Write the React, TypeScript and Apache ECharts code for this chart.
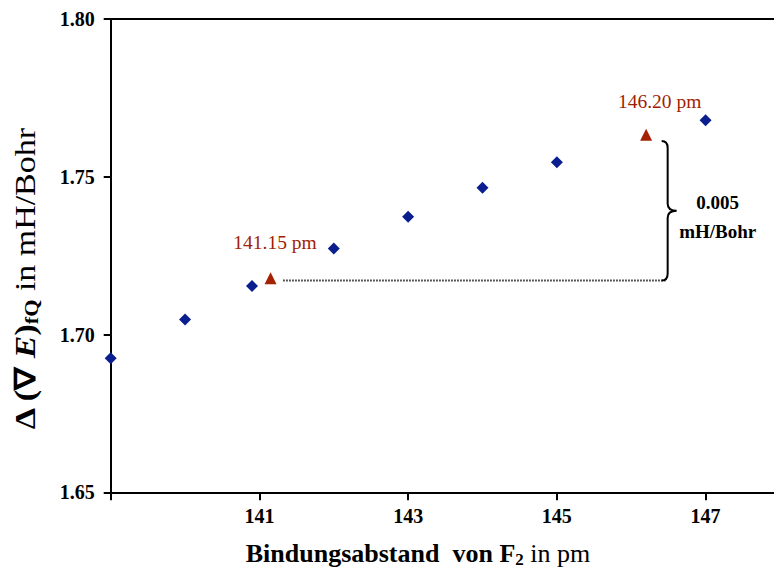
import React, { useEffect, useRef } from "react";
import * as echarts from "echarts";

// Data
const distances = [139, 140, 140.9, 142, 143, 144, 145, 147];
const gradients = [1.6925, 1.7048, 1.7154, 1.7273, 1.7373, 1.7465, 1.7546, 1.7679];
const markedDistances = [141.15, 146.2];
const markedGradients = [1.7178, 1.7633];
const xTickLabels = [141, 143, 145, 147];
const xTickMarks = [139, 141, 143, 145, 147];
const guideY = 1.7171;
const guideFrom = 141.32;
const guideTo = 146.46;
const braceX = 146.49;
const braceTop = 1.7613;
const braceBottom = 1.7171;
const braceLabel = ["0.005", "mH/Bohr"];

const SERIF = "'Liberation Serif', 'Times New Roman', serif";

export default function App() {
  const ref = useRef<HTMLDivElement>(null);
  useEffect(() => {
    document.body.style.margin = "0";
    const chart = echarts.init(ref.current!, null, { renderer: "svg" });
    const option: any = {
      animation: false,
      grid: { left: 110.7, top: 19, right: 0, bottom: 80.7 },
      xAxis: [
        {
          type: "value",
          min: 139,
          max: 147.92,
          splitLine: { show: false },
          axisLine: { show: true, onZero: false, lineStyle: { color: "#000", width: 2 } },
          axisTick: {
            show: true,
            length: 8,
            inside: false,
            lineStyle: { color: "#000", width: 2 },
            customValues: xTickMarks,
          },
          axisLabel: {
            show: true,
            customValues: xTickLabels,
            fontSize: 20,
            fontWeight: "bold",
            fontFamily: SERIF,
            color: "#000",
            margin: 14,
          },
        },
        {
          type: "value",
          position: "top",
          min: 139,
          max: 147.92,
          splitLine: { show: false },
          axisLine: { show: true, onZero: false, lineStyle: { color: "#000", width: 2 } },
          axisTick: { show: false },
          axisLabel: { show: false },
        },
      ],
      yAxis: {
        type: "value",
        min: 1.65,
        max: 1.8,
        interval: 0.05,
        splitLine: { show: false },
        axisLine: { show: true, onZero: false, lineStyle: { color: "#000", width: 2 } },
        axisTick: { show: true, length: 7, lineStyle: { color: "#000", width: 2 } },
        axisLabel: {
          fontSize: 20,
          fontWeight: "bold",
          fontFamily: SERIF,
          color: "#000",
          margin: 16,
          formatter: (v: number) => v.toFixed(2),
        },
      },
      series: [
        {
          type: "line",
          data: [
            [guideFrom, guideY],
            [guideTo, guideY],
          ],
          symbol: "none",
          lineStyle: { type: [1.5, 1.5], color: "#222", width: 2 },
          z: 1,
        },
        {
          type: "scatter",
          data: distances.map((d, i) => [d, gradients[i]]),
          symbol: "diamond",
          symbolSize: 12,
          itemStyle: { color: "#0b1e8f", opacity: 1 },
          z: 3,
        },
        {
          type: "scatter",
          data: markedDistances.map((d, i) => ({
            value: [d, markedGradients[i]],
            label: { offset: i === 0 ? [4.5, -19.5] : [13.5, -17] },
          })),
          symbol: "triangle",
          symbolSize: 12,
          itemStyle: { color: "#a52200", opacity: 1 },
          label: {
            show: true,
            position: "top",
            distance: 0,
            fontSize: 19.5,
            fontFamily: SERIF,
            color: "#a01e05",
            opacity: 1,
            formatter: (p: any) => p.value[0].toFixed(2) + " pm",
          },
          z: 3,
        },
        {
          type: "custom",
          data: [[braceX, braceTop, braceBottom]],
          z: 2,
          renderItem: (params: any, api: any) => {
            const t = api.coord([api.value(0), api.value(1)]);
            const b = api.coord([api.value(0), api.value(2)]);
            const x = t[0];
            const yT = t[1];
            const yB = b[1];
            const yM = (yT + yB) / 2;
            const r = 7;
            const d =
              `M ${x - 6} ${yT} Q ${x} ${yT} ${x} ${yT + r} ` +
              `L ${x} ${yM - r} Q ${x} ${yM} ${x + 9} ${yM} ` +
              `Q ${x} ${yM} ${x} ${yM + r} L ${x} ${yB - r} ` +
              `Q ${x} ${yB} ${x - 6} ${yB}`;
            return {
              type: "group",
              children: [
                {
                  type: "path",
                  shape: { pathData: d },
                  style: { stroke: "#000", fill: "none", lineWidth: 2 },
                },
                {
                  type: "text",
                  x: x + 50,
                  y: yM - 8,
                  style: {
                    text: braceLabel[0],
                    fontSize: 19,
                    fontWeight: "bold",
                    fontFamily: SERIF,
                    fill: "#000",
                    align: "center",
                    verticalAlign: "middle",
                  },
                },
                {
                  type: "text",
                  x: x + 50,
                  y: yM + 21,
                  style: {
                    text: braceLabel[1],
                    fontSize: 19,
                    fontWeight: "bold",
                    fontFamily: SERIF,
                    fill: "#000",
                    align: "center",
                    verticalAlign: "middle",
                  },
                },
              ],
            };
          },
        },
      ],
      graphic: [
        {
          type: "text",
          x: 25,
          y: 279,
          rotation: Math.PI / 2,
          scaleX: 1.17,
          style: {
            text: "{b|Δ (∇ }{i|E}{b|)}{s|fQ}{n| in mH/Bohr}",
            align: "center",
            verticalAlign: "middle",
            fill: "#000",
            rich: {
              b: { fontSize: 29, fontWeight: "bold", fontFamily: SERIF, lineHeight: 32, fill: "#000" },
              i: { fontSize: 29, fontWeight: "bold", fontStyle: "italic", fontFamily: SERIF, lineHeight: 32, fill: "#000" },
              s: { fontSize: 19, fontWeight: "bold", fontFamily: SERIF, lineHeight: 20, verticalAlign: "bottom", fill: "#000" },
              n: { fontSize: 29, fontFamily: SERIF, lineHeight: 32, fill: "#000" },
            },
          },
        },
        {
          type: "text",
          x: 418,
          y: 553,
          style: {
            text: "{b|Bindungsabstand \u00a0von F}{s|2}{n| in pm}",
            align: "center",
            verticalAlign: "middle",
            fill: "#000",
            rich: {
              b: { fontSize: 26, fontWeight: "bold", fontFamily: SERIF, lineHeight: 30, fill: "#000" },
              s: { fontSize: 17, fontWeight: "bold", fontFamily: SERIF, lineHeight: 18, verticalAlign: "bottom", fill: "#000" },
              n: { fontSize: 26, fontFamily: SERIF, lineHeight: 30, fill: "#000" },
            },
          },
        },
      ],
    };
    chart.setOption(option);
    return () => chart.dispose();
  }, []);
  return (
    <div
      ref={ref}
      style={{ position: "fixed", left: 0, top: 0, width: 774, height: 573, background: "#fff" }}
    />
  );
}
